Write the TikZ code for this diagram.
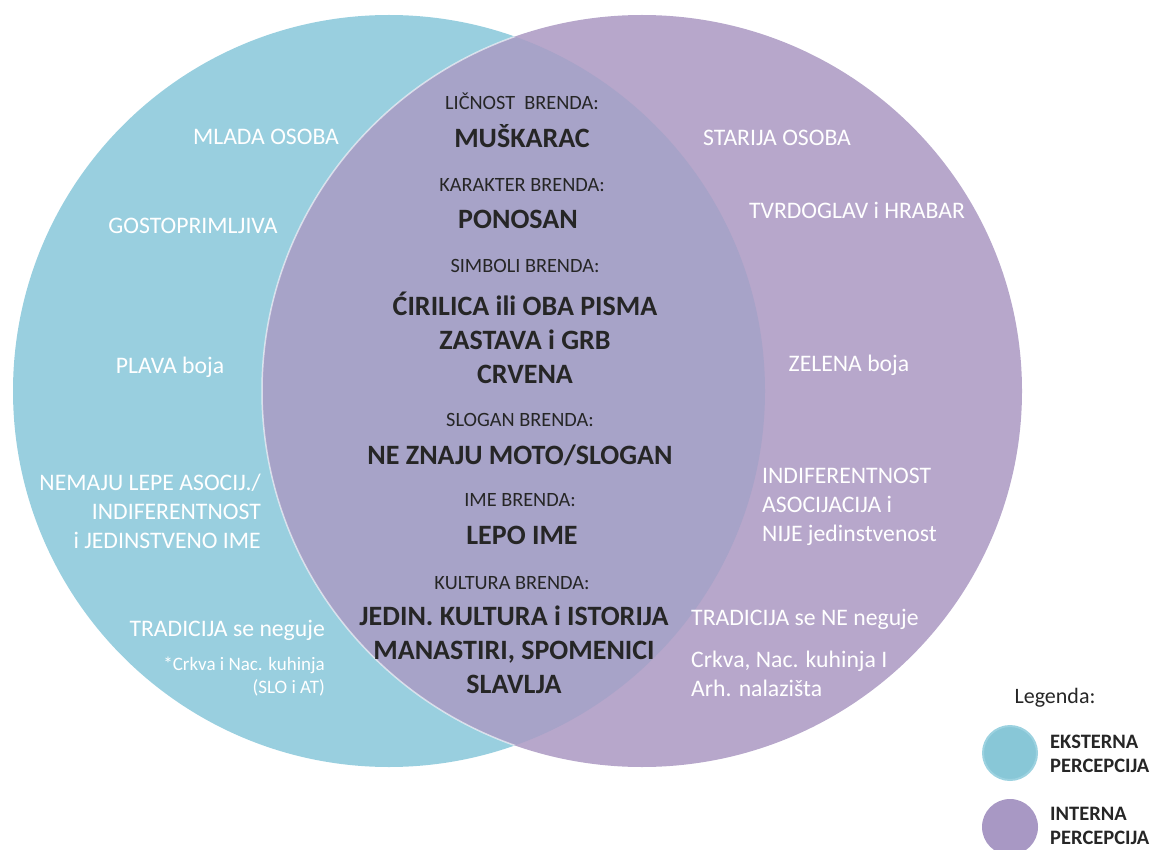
\documentclass[tikz,border=0pt]{standalone}
\usepackage{fontspec}
\setmainfont{Carlito}
\usepackage{tikz}
\usetikzlibrary{positioning}

\definecolor{extblue}{RGB}{153,207,223}
\definecolor{intpurple}{RGB}{183,167,203}
\definecolor{overlap}{RGB}{167,163,200}
\definecolor{darktext}{RGB}{38,38,38}
\definecolor{legblue}{RGB}{136,199,215}
\definecolor{legrim}{RGB}{156,210,224}
\definecolor{legpurple}{RGB}{168,152,196}

\begin{document}
\begin{tikzpicture}[x=1pt, y=-1pt,
		head/.style={text=darktext, inner sep=0pt, font=\fontsize{20.3}{24}\selectfont},
		val/.style={text=darktext, inner sep=0pt, align=center, font=\bfseries\fontsize{28}{34}\selectfont},
		side/.style={text=white, inner sep=0pt, font=\fontsize{23.7}{29}\selectfont},
		small/.style={text=white, inner sep=0pt, align=right, font=\fontsize{19}{23}\selectfont},
		legtext/.style={text=darktext, inner sep=0pt, align=left, anchor=west, font=\bfseries\fontsize{20.5}{24}\selectfont}]
		\useasboundingbox (0, 0) rectangle (1153, 850);

		% circles
		\fill [extblue] (389, 391) circle [radius=376];
		\fill [intpurple] (642, 391) ellipse [x radius=380, y radius=376];
		\begin{scope}
			\clip (389, 391) circle [radius=376];
			\fill [overlap] (642, 391) ellipse [x radius=380, y radius=376];
			\draw [white, opacity=0.6, line width=1.5pt] (642, 391) ellipse [x radius=380, y radius=376];
		\end{scope}

		% middle
		\node [head] (licnost) at (522, 101) {LIČNOST\ \ BRENDA:};
		\node [val] (muskarac) at (522, 136) {MUŠKARAC};
		\node [head] (karakter) at (522, 185) {KARAKTER BRENDA:};
		\node [val] (ponosan) at (518, 219) {PONOSAN};
		\node [head] (simboli) at (525, 266) {SIMBOLI BRENDA:};
		\node [val] (pisma) at (525, 338) {ĆIRILICA ili OBA PISMA\\ZASTAVA i GRB\\CRVENA};
		\node [head] (slogan) at (520, 420) {SLOGAN BRENDA:};
		\node [val] (moto) at (520, 455) {NE ZNAJU MOTO/SLOGAN};
		\node [head] (ime) at (520, 500) {IME BRENDA:};
		\node [val] (lepoime) at (522, 535) {LEPO IME};
		\node [head] (kultura) at (512, 583) {KULTURA BRENDA:};
		\node [val] (istorija) at (514, 650) {JEDIN. KULTURA i ISTORIJA\\MANASTIRI, SPOMENICI\\SLAVLJA};

		% eksterna
		\node [side] (mlada) at (266, 137) {MLADA OSOBA};
		\node [side] (gosto) at (193, 226) {GOSTOPRIMLJIVA};
		\node [side] (plava) at (170, 367) {PLAVA boja};
		\node [side, align=right, anchor=east] (asocij) at (261, 511) {NEMAJU LEPE ASOCIJ./\\INDIFERENTNOST\\i JEDINSTVENO IME};
		\node [side, anchor=east] (tradext) at (325, 630) {TRADICIJA se neguje};
		\node [small, anchor=east] (crkvaext) at (325, 677) {*Crkva i Nac. kuhinja\\(SLO i AT)};

		% interna
		\node [side] (starija) at (777, 138) {STARIJA OSOBA};
		\node [side] (tvrdoglav) at (857, 210) {TVRDOGLAV i HRABAR};
		\node [side] (zelena) at (849, 365) {ZELENA boja};
		\node [side, align=left, anchor=west] (indif) at (762, 507) {INDIFERENTNOST\\ASOCIJACIJA i\\NIJE jedinstvenost};
		\node [side, anchor=west] (tradint) at (691, 619) {TRADICIJA se NE neguje};
		\node [side, align=left, anchor=west] (crkvaint) at (691, 674) {Crkva, Nac. kuhinja I\\Arh. nalazišta};

		% legenda
		\node [text=darktext, inner sep=0pt, font=\fontsize{22}{26}\selectfont] (legenda) at (1055, 698) {Legenda:};
		\node [circle, fill=legblue, draw=legrim, line width=2pt, minimum size=54, inner sep=0pt] (legext) at (1010, 753) {};
		\node [circle, fill=legpurple, minimum size=56, inner sep=0pt] (legint) at (1010, 827) {};
		\node [legtext] (eksterna) at (1050, 754) {EKSTERNA\\PERCEPCIJA};
		\node [legtext] (interna) at (1050, 826) {INTERNA\\PERCEPCIJA};
\end{tikzpicture}
\end{document}
